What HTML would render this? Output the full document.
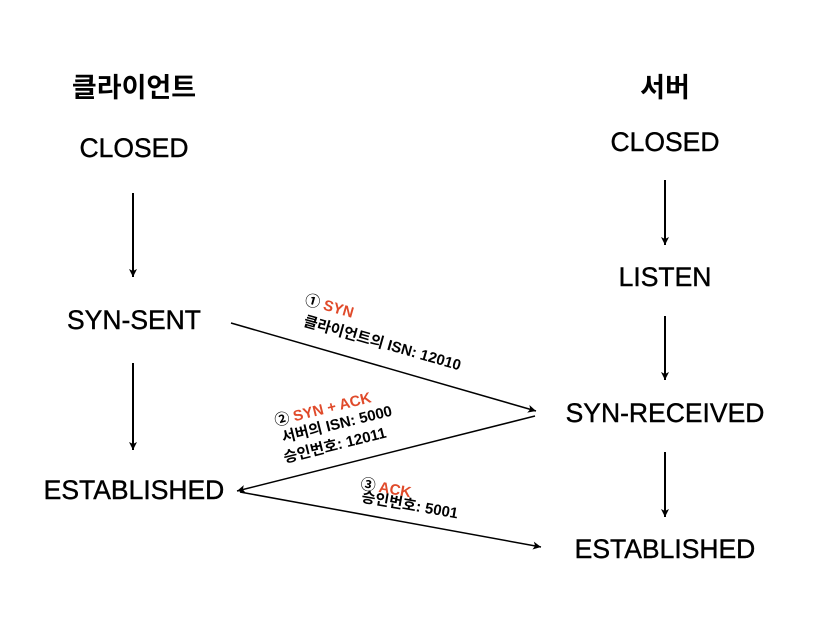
<!DOCTYPE html>
<html><head><meta charset="utf-8"><style>
html,body{margin:0;padding:0;background:#fff;}
svg{display:block;}
text{font-family:"Liberation Sans","Noto Sans CJK KR",sans-serif;fill:#000;}
.big{font-size:26.5px;stroke:#000;stroke-width:0.4px;}
.kr{font-size:27px;font-weight:bold;}
.sm{font-size:15px;font-weight:bold;}
.red{fill:#e04a2a;}
</style></head><body>
<svg width="820" height="622" viewBox="0 0 820 622" xmlns="http://www.w3.org/2000/svg">
<defs>
<marker id="a" markerWidth="10" markerHeight="10" refX="9" refY="5" orient="auto" markerUnits="userSpaceOnUse">
<path d="M1,1 L9,5 L1,9 L3,5 Z" fill="#000"/>
</marker>
</defs>
<g text-anchor="middle">
<text class="kr" x="134" y="97">클라이언트</text>
<text class="big" x="134" y="157">CLOSED</text>
<text class="big" x="134" y="329">SYN-SENT</text>
<text class="big" x="134" y="499">ESTABLISHED</text>
<text class="kr" x="665" y="97">서버</text>
<text class="big" x="665" y="151">CLOSED</text>
<text class="big" x="665" y="286">LISTEN</text>
<text class="big" x="665" y="422">SYN-RECEIVED</text>
<text class="big" x="665" y="558">ESTABLISHED</text>
</g>
<g stroke="#000" stroke-width="2" marker-end="url(#a)">
<line x1="133" y1="193" x2="133" y2="277"/>
<line x1="133" y1="363" x2="133" y2="450"/>
<line x1="665" y1="180" x2="665" y2="245"/>
<line x1="665" y1="316" x2="665" y2="380"/>
<line x1="665" y1="452" x2="665" y2="517"/>
</g>
<g stroke="#000" stroke-width="1.5" marker-end="url(#a)">
<line x1="231" y1="323" x2="536" y2="411"/>
<line x1="535" y1="416" x2="237" y2="491"/>
<line x1="240" y1="492" x2="541" y2="547"/>
</g>
<g text-anchor="middle">
<text class="sm" transform="translate(328,311) rotate(16)"><tspan>① </tspan><tspan class="red">SYN</tspan></text>
<text class="sm" transform="translate(381,348) rotate(16)">클라이언트의 ISN: 12010</text>
<text class="sm" transform="translate(324,414) rotate(-14)"><tspan>② </tspan><tspan class="red">SYN + ACK</tspan></text>
<text class="sm" transform="translate(338,429) rotate(-14)">서버의 ISN: 5000</text>
<text class="sm" transform="translate(336,450) rotate(-14)">승인번호: 12011</text>
<text class="sm" transform="translate(385,493) rotate(10)"><tspan>③ </tspan><tspan class="red">ACK</tspan></text>
<text class="sm" transform="translate(409,510) rotate(10)">승인번호: 5001</text>
</g>
</svg>
</body></html>
